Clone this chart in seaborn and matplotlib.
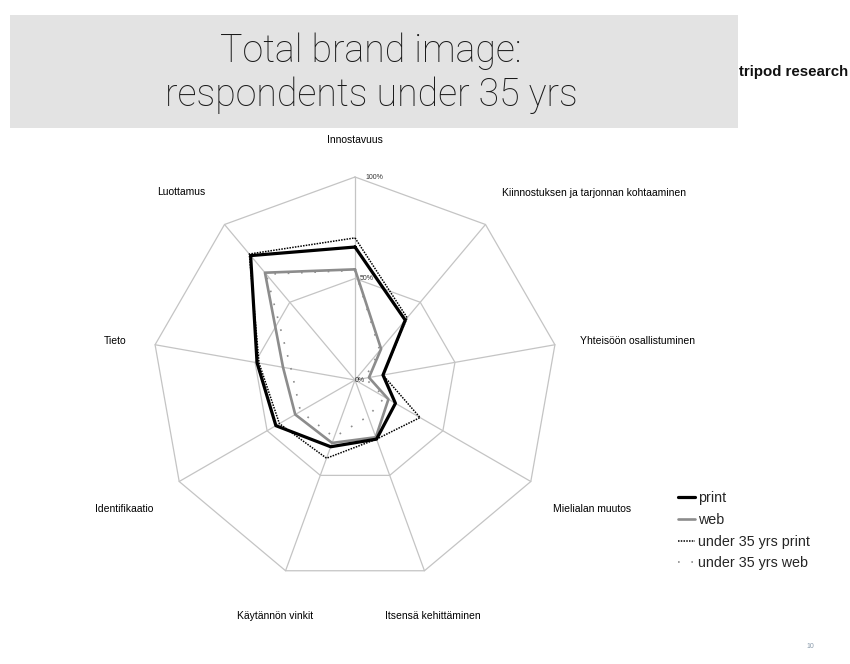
import numpy as np
import pandas as pd
import matplotlib
matplotlib.use("Agg")
import matplotlib.pyplot as plt
from matplotlib.patches import Rectangle
import seaborn as sns

# ---------------- data ----------------
categories = ["Innostavuus", "Kiinnostuksen ja tarjonnan kohtaaminen",
              "Yhteisöön osallistuminen", "Mielialan muutos",
              "Itsensä kehittäminen", "Käytännön vinkit", "Identifikaatio",
              "Tieto", "Luottamus"]
print_vals = [0.655, 0.385, 0.14, 0.23, 0.31, 0.35, 0.45, 0.49, 0.80]
web_vals = [0.545, 0.20, 0.07, 0.19, 0.30, 0.33, 0.34, 0.36, 0.69]
u35_print_vals = [0.70, 0.40, 0.14, 0.37, 0.31, 0.41, 0.43, 0.48, 0.81]
u35_web_vals = [0.54, 0.19, 0.05, 0.17, 0.19, 0.30, 0.31, 0.32, 0.68]
series_names = ["print", "web", "under 35 yrs print", "under 35 yrs web"]
radial_ticks = [0.0, 0.5, 1.0]
radial_tick_labels = ["0%", "50%", "100%"]
title_lines = ["Total brand image:", "respondents under 35 yrs"]

# ---------------- figure ----------------
sns.set_style("white")
plt.rcParams["font.family"] = ["Liberation Sans", "DejaVu Sans"]

W, H = 850, 664
fig = plt.figure(figsize=(W / 100, H / 100), dpi=100)
fig.patch.set_facecolor("white")

def fx(px):
    return px / W

def fy(py):
    return 1 - py / H

# title banner
fig.patches.append(Rectangle((fx(10), fy(128)), fx(738) - fx(10), fy(15) - fy(128),
                             transform=fig.transFigure, facecolor="#e3e3e3",
                             edgecolor="none", zorder=0))
for txt, py in zip(title_lines, (51, 95)):
    fig.text(fx(371), fy(py), txt, ha="center", va="center",
             fontsize=27, family=["Roboto", "DejaVu Sans"], fontweight="light",
             color="#1a1a1a")
fig.text(fx(739), fy(72), "tripod research", ha="left", va="center",
         fontsize=10.8, fontweight="bold", color="#111111")
fig.text(fx(810), fy(647), "10", ha="center", va="center", fontsize=5, color="#8899aa")

# radar axes
cx, cy, R = 355, 380, 203
ax = fig.add_axes([fx(cx - R), fy(cy + R), (2 * R) / W, (2 * R) / H], projection="polar")
ax.set_theta_offset(np.pi / 2)
ax.set_theta_direction(-1)
ax.set_ylim(0, 1.0)
ax.grid(False)
ax.spines["polar"].set_visible(False)
ax.set_xticks([])
ax.set_yticks([])
ax.patch.set_alpha(0)

n = len(categories)
angles = np.linspace(0, 2 * np.pi, n, endpoint=False)
closed_angles = np.append(angles, angles[0])

grid_col = "#c4c4c4"
for t in radial_ticks[1:]:
    ax.plot(closed_angles, [t] * (n + 1), color=grid_col, lw=0.9, clip_on=False, zorder=1)
for a in angles:
    ax.plot([a, a], [0, 1.0], color=grid_col, lw=0.9, clip_on=False, zorder=1)

for t, lab in zip(radial_ticks, radial_tick_labels):
    ax.text(0.05 if t > 0 else 0.35, t, lab, fontsize=5, ha="left", va="center", color="#333333")

styles = {
    "print": dict(color="black", lw=2.3, linestyle="-"),
    "web": dict(color="#8c8c8c", lw=1.9, linestyle="-"),
    "under 35 yrs print": dict(color="black", lw=1.1, linestyle=(0, (1, 0.8))),
    "under 35 yrs web": dict(color="#8c8c8c", lw=1.2, linestyle=(0, (1, 7))),
}
all_vals = [print_vals, web_vals, u35_print_vals, u35_web_vals]
order = [2, 3, 1, 0]
for i in order:
    name = series_names[i]
    vals = all_vals[i]
    df = pd.DataFrame({"theta": closed_angles, "r": list(vals) + [vals[0]]})
    sns.lineplot(data=df, x="theta", y="r", sort=False, estimator=None, ax=ax,
                 label=name, zorder=3 + (4 - i), clip_on=False, **styles[name])
ax.set_xlabel("")
ax.set_ylabel("")
h, l = ax.get_legend_handles_labels()
lut = dict(zip(l, h))
ax.get_legend().remove()
fig.legend([lut[s] for s in series_names], series_names, loc="upper left",
           bbox_to_anchor=(fx(665), fy(478)), frameon=False, fontsize=10.3,
           handlelength=1.2, handletextpad=0.2, labelspacing=0.55)

# category labels
label_pos = [(355, 140, "center"), (502, 193, "left"), (580, 341, "left"),
             (553, 509, "left"), (385, 616, "left"), (237, 616, "left"),
             (95, 509, "left"), (104, 341, "left"), (157, 192, "left")]
for cat, (px, py, ha) in zip(categories, label_pos):
    fig.text(fx(px), fy(py), cat, ha=ha, va="center", fontsize=7.5, color="#000000")

fig.savefig("out.png", dpi=100)
